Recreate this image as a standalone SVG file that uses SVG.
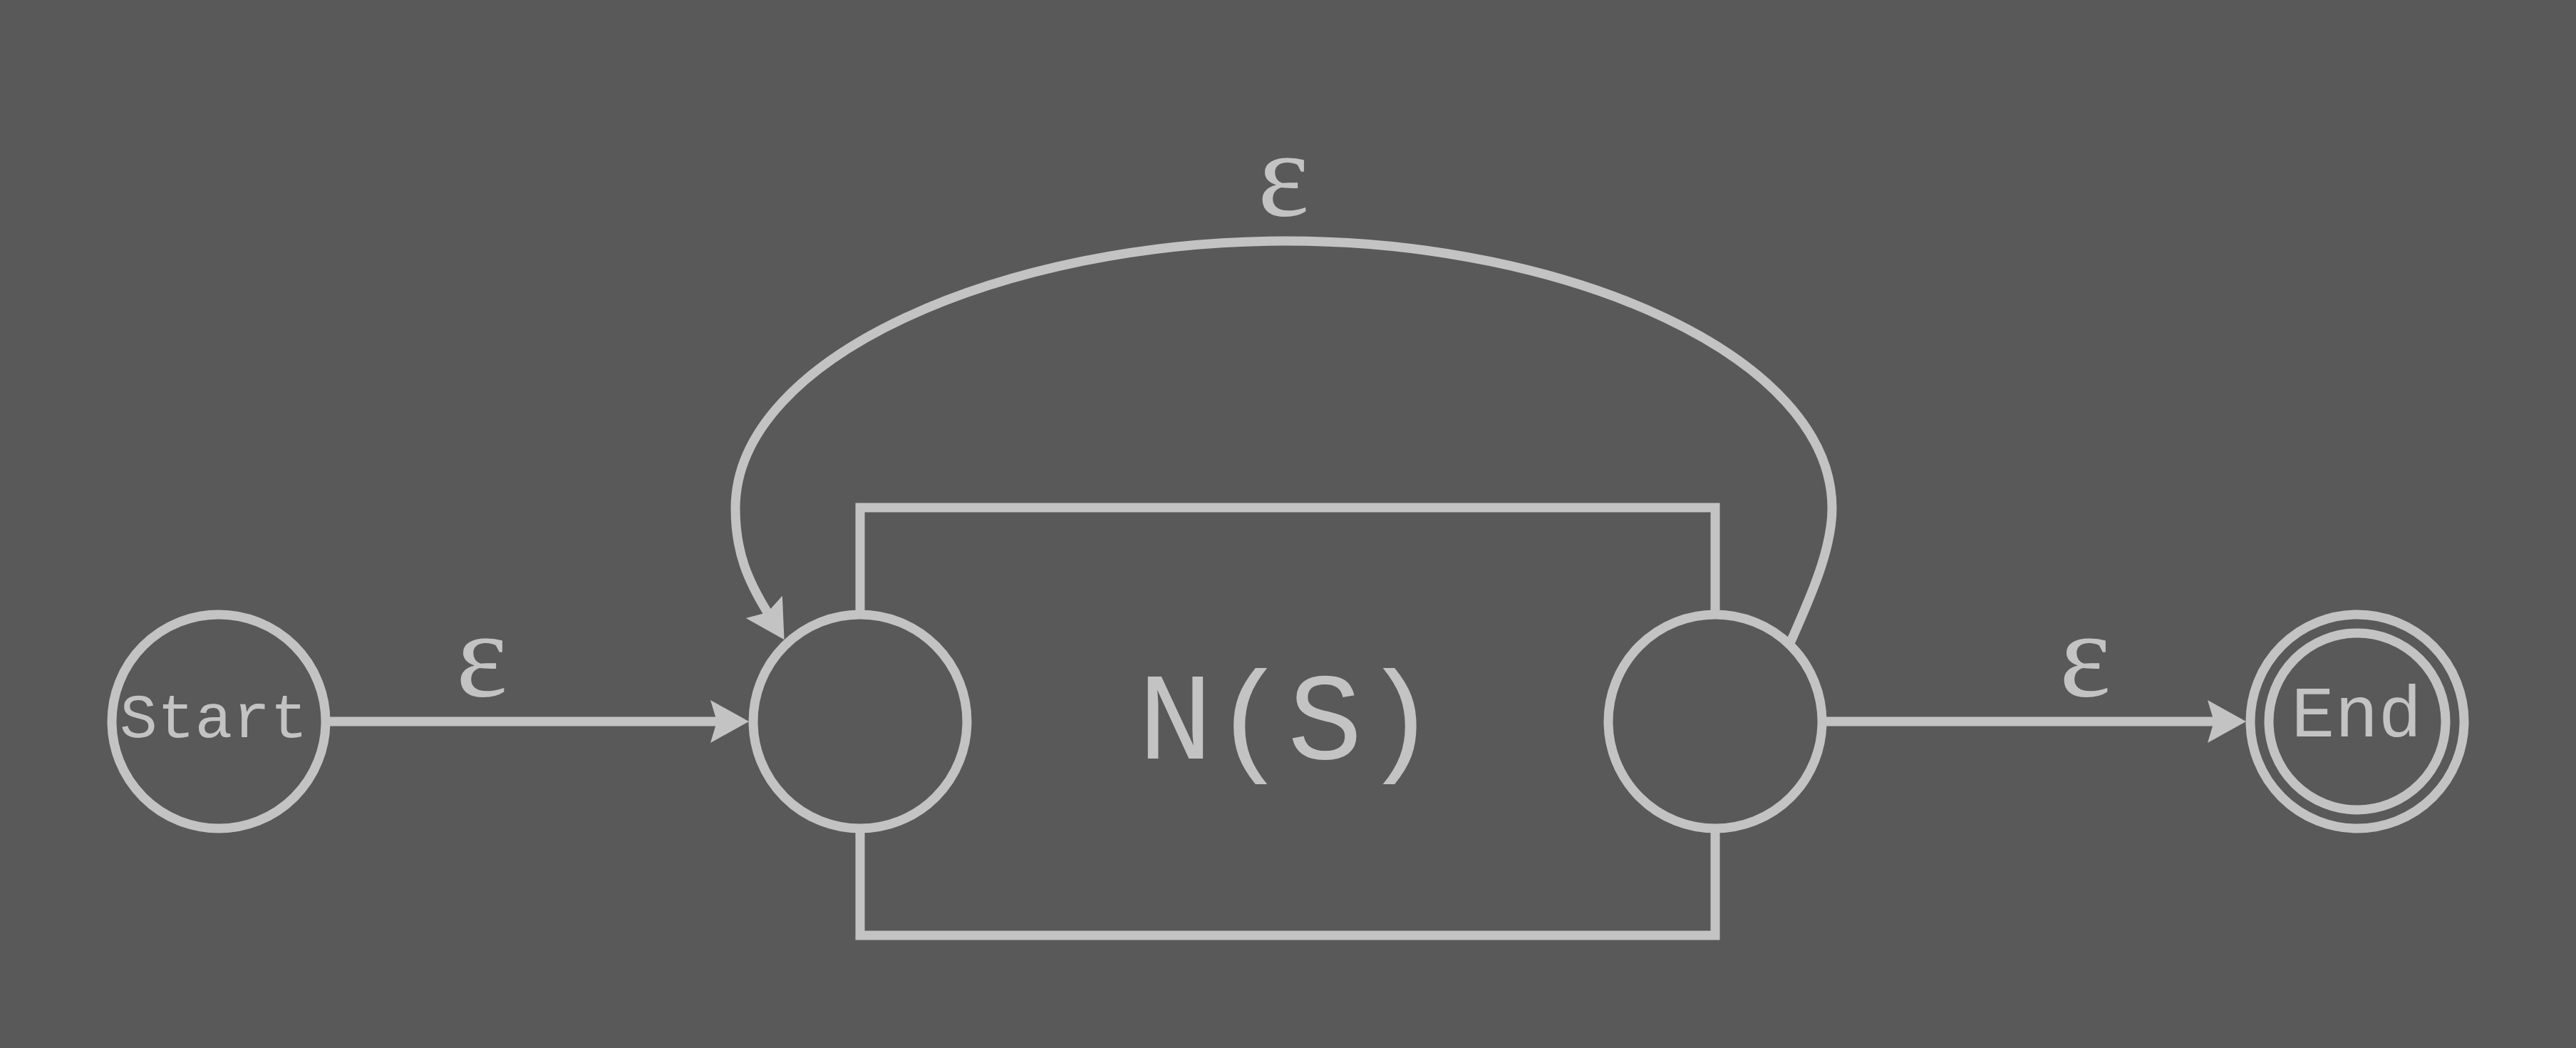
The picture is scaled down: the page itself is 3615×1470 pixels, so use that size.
<svg xmlns="http://www.w3.org/2000/svg" width="3615" height="1470" viewBox="0 0 3615 1470">
<style>
.bg{fill:#595959}
.ln{fill:none;stroke:#c3c3c3;stroke-width:13}
.nd{fill:#595959;stroke:#c3c3c3;stroke-width:13}
.tx{fill:#c3c3c3;font-family:"Liberation Mono","Courier New",monospace;text-anchor:middle}
.eps{fill:#c3c3c3;font-family:"Liberation Serif","Times New Roman",serif;text-anchor:middle;font-size:172px}
</style>
<defs>
<marker id="arr" markerUnits="userSpaceOnUse" markerWidth="60" markerHeight="70" viewBox="-2 -34 60 68" refX="9" refY="0" orient="auto">
<path d="M0,-30 L54,0 L0,30 L9,0 Z" fill="#c3c3c3"/>
</marker>
</defs>
<rect class="bg" x="0" y="0" width="3615" height="1470"/>
<g id="cluster-NS">
<rect class="ln" x="1207" y="712" width="1200" height="600"/>
<text class="tx" x="1807" y="1064" font-size="175">N(S)</text>
</g>
<g id="connectors">
<path id="e-start" class="ln" d="M457,1012 L1006,1012" marker-end="url(#arr)"/>
<path id="e-end" class="ln" d="M2563,1012 L3107,1012" marker-end="url(#arr)"/>
<path id="e-loop" class="ln" d="M2513,900 C2541,837 2571,770 2571,713 C2571,500 2200,338 1805,338 C1410,338 1032,500 1032,713 C1032,775 1050,815 1077,859" marker-end="url(#arr)"/>
<text class="eps" x="676" y="976">ε</text>
<text class="eps" x="2926" y="976">ε</text>
<text class="eps" x="1801" y="302">ε</text>
</g>
<g id="node-start">
<circle class="nd" cx="307" cy="1012" r="150"/>
<text class="tx" x="300" y="1034" font-size="88">Start</text>
</g>
<g id="node-s1">
<circle class="nd" cx="1207" cy="1012" r="150"/>
</g>
<g id="node-s2">
<circle class="nd" cx="2407" cy="1012" r="150"/>
</g>
<g id="node-end">
<circle class="nd" cx="3308" cy="1012" r="150"/>
<circle class="nd" cx="3308" cy="1012" r="124"/>
<text class="tx" x="3307" y="1033" font-size="102">End</text>
</g>
</svg>
